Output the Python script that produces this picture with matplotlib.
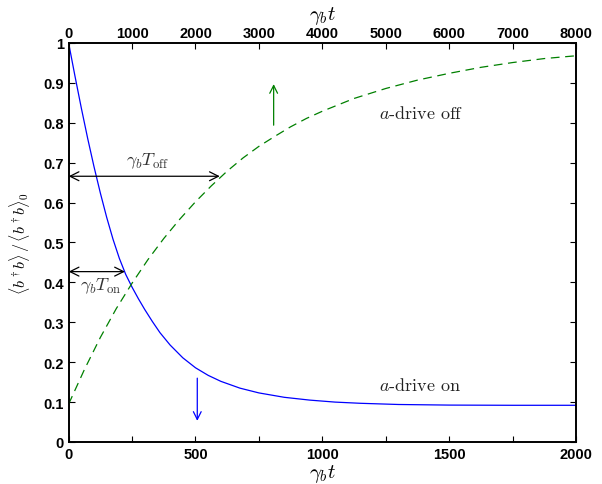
import matplotlib
matplotlib.use("Agg")
import matplotlib.pyplot as plt

plt.rcParams['mathtext.fontset'] = 'cm'
plt.rcParams['font.family'] = ['Liberation Sans', 'DejaVu Sans']

# a-drive on (bottom axis, gamma_b t in 0..2000)
on_t = [0, 25, 50, 75, 100, 125, 150, 175, 200, 225, 250, 275, 300, 330,
        360, 400, 450, 500, 550, 600, 675, 750, 850, 950, 1050, 1150, 1300,
        1500, 1750, 2000]
on_n = [1.000, 0.917, 0.837, 0.761, 0.690, 0.624, 0.563, 0.508, 0.460,
        0.420, 0.388, 0.359, 0.332, 0.302, 0.274, 0.243, 0.211, 0.186,
        0.167, 0.152, 0.135, 0.123, 0.112, 0.105, 0.100, 0.097, 0.094,
        0.0925, 0.092, 0.092]

# a-drive off (top axis, gamma_b t in 0..8000)
off_t = [0, 250, 500, 750, 1000, 1250, 1500, 1750, 2000, 2250, 2500, 2750,
         3000, 3250, 3500, 3750, 4000, 4500, 5000, 5500, 6000, 6500, 7000,
         7500, 8000]
off_n = [0.095, 0.182, 0.262, 0.334, 0.398, 0.457, 0.510, 0.558, 0.602,
         0.642, 0.679, 0.712, 0.741, 0.766, 0.790, 0.811, 0.829, 0.861,
         0.886, 0.907, 0.924, 0.939, 0.951, 0.961, 0.968]

bottom_ticks = [0, 500, 1000, 1500, 2000]
top_ticks = [0, 1000, 2000, 3000, 4000, 5000, 6000, 7000, 8000]
y_ticks = [0, 0.1, 0.2, 0.3, 0.4, 0.5, 0.6, 0.7, 0.8, 0.9, 1]

T_on = 222
T_off = 2383
y_on_level = 0.427
y_off_level = 0.666

fig = plt.figure(figsize=(6.02, 4.85), dpi=100)
ax = fig.add_axes([0.114, 0.0866, 0.843, 0.8227])
ax.plot(on_t, on_n, color='#0000ff', lw=0.9)
ax.set_xlim(0, 2000)
ax.set_ylim(0, 1)
ax.set_xticks(bottom_ticks)
ax.set_xticks([250, 750, 1250, 1750], minor=True)
ax.set_yticks(y_ticks)
ax.set_yticklabels([f"{v:g}" for v in y_ticks])
ax.tick_params(which='both', direction='in', length=4, width=0.8,
               right=True, labelsize=10.5)
for lab in ax.get_xticklabels() + ax.get_yticklabels():
    lab.set_fontweight('bold')
ax.set_xlabel(r"$\gamma_b t$", fontsize=15, labelpad=1)
ax.set_ylabel(r"$\langle b^\dagger b\rangle\,/\,\langle b^\dagger b\rangle_0$",
              fontsize=11.5, labelpad=8)

axt = ax.twiny()
axt.plot(off_t, off_n, color='#008000', lw=0.9, linestyle=(0, (7, 4.5)))
axt.set_xlim(0, 8000)
axt.set_xticks(top_ticks)
axt.tick_params(direction='in', length=4, width=0.8, labelsize=10.5, pad=2)
for lab in axt.get_xticklabels():
    lab.set_fontweight('bold')
axt.set_xlabel(r"$\gamma_b t$", fontsize=15, labelpad=5)

for a in (ax, axt):
    for s in a.spines.values():
        s.set_linewidth(1.2)

# double arrows
ax.annotate('', xy=(T_off / 4, y_off_level), xytext=(0, y_off_level),
            arrowprops=dict(arrowstyle='<->', color='black', lw=0.9,
                            shrinkA=0, shrinkB=0, mutation_scale=16))
ax.annotate('', xy=(T_on, y_on_level), xytext=(0, y_on_level),
            arrowprops=dict(arrowstyle='<->', color='black', lw=0.9,
                            shrinkA=0, shrinkB=0, mutation_scale=16))
ax.text(310, 0.705, r"$\gamma_b T_{\rm off}$", fontsize=13, ha='center',
        va='center', color='#333333')
ax.text(125, 0.393, r"$\gamma_b T_{\rm on}$", fontsize=13, ha='center',
        va='center', color='#333333')

# direction arrows
ax.annotate('', xy=(808, 0.897), xytext=(808, 0.794),
            arrowprops=dict(arrowstyle='->', color='#008000', lw=0.9,
                            shrinkA=0, shrinkB=0, mutation_scale=14))
ax.annotate('', xy=(507, 0.053), xytext=(507, 0.16),
            arrowprops=dict(arrowstyle='->', color='#0000ff', lw=0.9,
                            shrinkA=0, shrinkB=0, mutation_scale=14))

ax.text(1389, 0.827, r"$a$-drive off", fontsize=13, ha='center', va='center',
        family=['cmr10'], color='#222222')
ax.text(1385, 0.144, r"$a$-drive on", fontsize=13, ha='center', va='center',
        family=['cmr10'], color='#222222')

fig.savefig("out.png", dpi=100)
